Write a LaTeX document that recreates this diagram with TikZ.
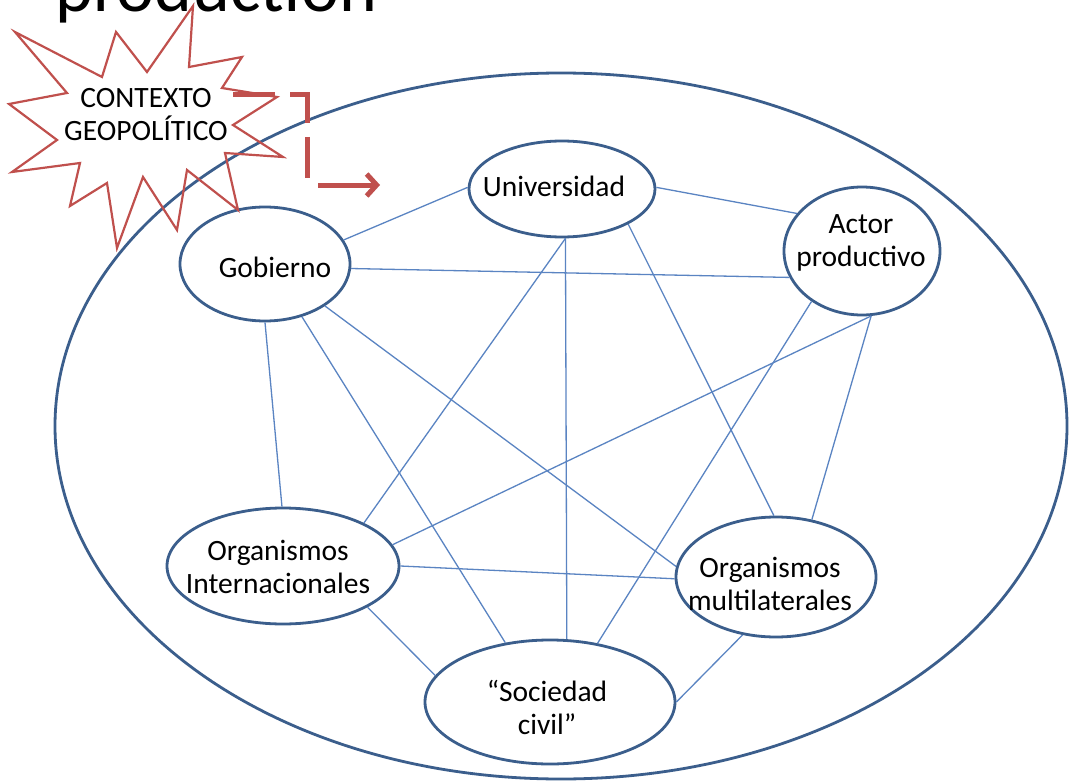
\documentclass[tikz,border=0pt]{standalone}
\usepackage{fontspec}
\setmainfont{Carlito}
\usetikzlibrary{arrows.meta,shapes.geometric}
\definecolor{nodeblue}{HTML}{3B5E8C}
\definecolor{linkblue}{HTML}{5A84C2}
\definecolor{burstred}{HTML}{C0504D}
\begin{document}
\begin{tikzpicture}[x=1pt,y=-1pt,
  actor/.style={ellipse, draw=nodeblue, line width=2.8pt, inner sep=0pt},
  txt/.style={inner sep=0pt, align=center, font=\fontsize{29.5}{33}\selectfont},
  link/.style={draw=linkblue, line width=1.3pt}]
\clip (0,0) rectangle (1071,781);
\fill[white] (0,0) rectangle (1071,781);

% title remnant
\node[anchor=base west, inner sep=0pt, font=\fontsize{72}{80}\selectfont] (title) at (55,12) {production};

% world ellipse
\node[actor, minimum width=1012pt, minimum height=706pt] (world) at (561,426) {};

% actors
\node[actor, minimum width=170pt, minimum height=114pt] (gob) at (265,264) {};
\node[actor, minimum width=186pt, minimum height=96pt] (uni) at (562,189) {};
\node[actor, minimum width=156pt, minimum height=128pt] (act) at (862,251) {};
\node[actor, minimum width=232pt, minimum height=116pt] (oi) at (283,566) {};
\node[actor, minimum width=200pt, minimum height=120pt] (om) at (776,577) {};
\node[actor, minimum width=250pt, minimum height=124pt] (sc) at (550,702) {};

% connectors
\draw[link] (gob.17) -- (uni.179);
\draw[link] (gob.-3) -- (act.200);
\draw[link] (uni.1) -- (act.150);
\draw[link] (gob.-90) -- (oi.91);
\draw[link] (gob.-55) -- (sc.127);
\draw[link] (gob.-35) -- (om.174);
\draw[link] (uni.-86) -- (oi.28);
\draw[link] (uni.-86) -- (sc.75);
\draw[link] (uni.-28) -- (om.92);
\draw[link] (act.-82) -- (oi.11);
\draw[link] (act.225) -- (sc.51);
\draw[link] (act.-82) -- (om.58);
\draw[link] (oi.0) -- (om.181);
\draw[link] (oi.-26) -- (sc.167);
\draw[link] (om.240) -- (sc.0);

% labels
\node[txt] (gobt) at (275,267) {Gobierno};
\node[txt] (unit) at (554,186) {Universidad};
\node[txt] (actt) at (861,243) {Actor\\productivo};
\node[txt] (oit) at (278,567) {Organismos\\Internacionales};
\node[txt] (omt) at (770,584) {Organismos\\multilaterales};
\node[txt] (sct) at (547,707) {“Sociedad\\civil”};

% starburst
\draw[burstred, line width=2.2pt, line join=miter]
  (15,32) -- (102,77) -- (116,32) -- (147,72) -- (193,6) -- (189,67) -- (242,57)
  -- (222,88) -- (277,97) -- (233,125) -- (283,157) -- (225,153) -- (238,210)
  -- (187,170) -- (177,230) -- (143,177) -- (117,248) -- (107,183) -- (70,206)
  -- (80,163) -- (12,172) -- (57,140) -- (9,104) -- (67,93) -- cycle;
\node[txt] (ctx) at (146,115) {CONTEXTO\\GEOPOLÍTICO};

% dashed elbow arrow
\coordinate (ctxout) at (233,95);
\coordinate (bend) at (307,185);
\coordinate (ctxin) at (380,185);
\draw[burstred, line width=5pt, line join=miter,
  dash pattern=on 42pt off 15pt on 45pt off 14pt on 41pt off 18pt on 80pt off 0pt,
  -{Straight Barb[length=10pt,width=22pt]}]
  (ctxout) -| (bend) -- (ctxin);
\end{tikzpicture}
\end{document}
